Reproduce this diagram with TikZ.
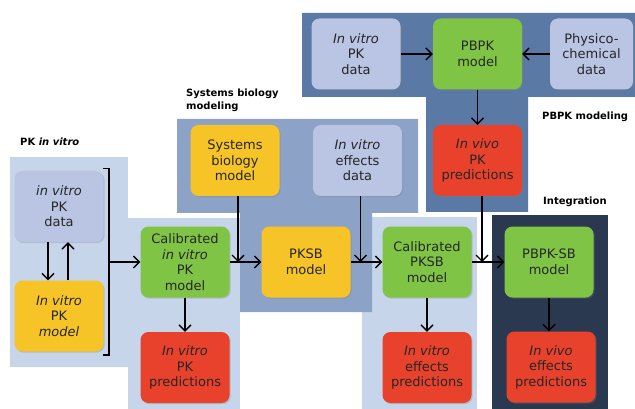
\documentclass[tikz,border=0pt]{standalone}
\usepackage{fontspec}
\setmainfont{DejaVu Sans}
\usepackage{xcolor}
\usepackage{tikz}
\usetikzlibrary{arrows.meta,shadows,calc}

\definecolor{datablue}{RGB}{185,197,227}
\definecolor{modelyellow}{RGB}{246,196,38}
\definecolor{calgreen}{RGB}{128,196,70}
\definecolor{predred}{RGB}{232,66,44}
\definecolor{lightpanel}{RGB}{198,213,233}
\definecolor{sbpanel}{RGB}{140,163,199}
\definecolor{pbpkpanel}{RGB}{90,121,164}
\definecolor{intpanel}{RGB}{42,57,80}

\tikzset{
  box/.style={rounded corners=8pt,minimum width=89pt,minimum height=71pt,inner sep=0pt,
    align=center,text=black!85,font=\fontsize{13}{15.5}\selectfont,
    drop shadow={shadow xshift=1.2pt,shadow yshift=-1.2pt,opacity=0.3}},
  databox/.style={box,fill=datablue},
  modelbox/.style={box,fill=modelyellow},
  calbox/.style={box,fill=calgreen},
  predbox/.style={box,fill=predred},
  paneltitle/.style={font=\fontsize{10}{13}\selectfont\bfseries,align=left,anchor=west,inner sep=0pt},
  arr/.style={line width=1.8pt,-{Straight Barb[length=6pt,width=12pt,line width=1.4pt]}}
}

\begin{document}
\begin{tikzpicture}[x=1pt,y=-1pt]
	\useasboundingbox (0,0) rectangle (635,409);
	% panels
	\fill[lightpanel] (10,157) rectangle (128,367);
	\fill[lightpanel] (128,218) rectangle (240,409);
	\fill[lightpanel] (362,217) rectangle (477,409);
	\fill[sbpanel] (177,119) -- (418,119) -- (418,213) -- (372,213) -- (372,312) -- (240,312) -- (240,213) -- (177,213) -- cycle;
	\fill[pbpkpanel] (302,13) -- (635,13) -- (635,97) -- (528,97) -- (528,212) -- (426,212) -- (426,97) -- (302,97) -- cycle;
	\fill[intpanel] (492,215) rectangle (608,409);

	\node[paneltitle] (ttlpk) at (20,142) {PK \textit{in vitro}};
	\node[paneltitle] (ttlsb) at (186,100) {Systems biology\\modeling};
	\node[paneltitle] (ttlpbpk) at (542,117) {PBPK modeling};
	\node[paneltitle] (ttlint) at (543,202) {Integration};

	% PK in vitro
	\node[databox] (pkdata) at (59,206.5) {\textit{in vitro}\\PK\\data};
	\node[modelbox] (pkmodel) at (59,316) {\textit{In vitro}\\PK\\\textit{model}};
	\node[calbox] (calpk) at (185,262) {Calibrated\\\textit{in vitro}\\PK\\model};
	\node[predbox] (pkpred) at (185,367.5) {\textit{In vitro}\\PK\\predictions};

	% systems biology
	\node[modelbox] (sbmodel) at (235,160.5) {Systems\\biology\\model};
	\node[databox] (effdata) at (357.5,160.5) {\textit{In vitro}\\effects\\data};
	\node[modelbox] (pksb) at (306,262) {PKSB\\model};
	\node[calbox] (calpksb) at (427,262) {Calibrated\\PKSB\\model};
	\node[predbox] (effpred) at (427,367.5) {\textit{In vitro}\\effects\\predictions};

	% PBPK
	\node[databox] (vivodata) at (356,54) {\textit{In vitro}\\PK\\data};
	\node[calbox] (pbpk) at (477.5,54) {PBPK\\model};
	\node[databox,minimum width=83pt] (physchem) at (591.5,54) {Physico-\\chemical\\data};
	\node[predbox] (vivopred) at (477.5,160.5) {\textit{In vivo}\\PK\\predictions};

	% integration
	\node[calbox] (pbpksb) at (549,262) {PBPK-SB\\model};
	\node[predbox] (vivoeff) at (551,367) {\textit{In vivo}\\effects\\predictions};

	% connectors
	\draw[arr] ([xshift=-11pt]pkdata.south) -- ([xshift=-11pt]pkmodel.north);
	\draw[arr] ([xshift=9pt]pkmodel.north) -- ([xshift=9pt]pkdata.south);
	\draw[line width=1.8pt] ([xshift=44pt,yshift=38pt]pkdata.center) coordinate (brtop) -- ++(6pt,0) coordinate (brtr)
		-- ([xshift=50pt,yshift=-39pt]pkmodel.center) coordinate (brbr) -- ++(-6pt,0) coordinate (brbot);
	\draw[arr] (brtr |- calpk.west) -- (calpk.west);
	\draw[arr] (calpk) -- (pkpred);
	\draw[arr] (calpk) -- (pksb);
	\draw[arr] ([xshift=3pt]sbmodel.south) -- ([xshift=3pt]sbmodel.south |- pksb.west);
	\draw[arr] (pksb) -- (calpksb);
	\draw[arr] ([xshift=3pt]effdata.south) -- ([xshift=3pt]effdata.south |- calpksb.west);
	\draw[arr] (calpksb) -- (effpred);
	\draw[arr] (calpksb) -- (pbpksb);
	\draw[arr] ([xshift=4.5pt]vivopred.south) -- ([xshift=4.5pt]vivopred.south |- pbpksb.west);
	\draw[arr] (pbpksb) -- (pbpksb |- vivoeff.north);
	\draw[arr] (vivodata) -- (pbpk);
	\draw[arr] (physchem) -- (pbpk);
	\draw[arr] (pbpk) -- (vivopred);
\end{tikzpicture}
\end{document}
